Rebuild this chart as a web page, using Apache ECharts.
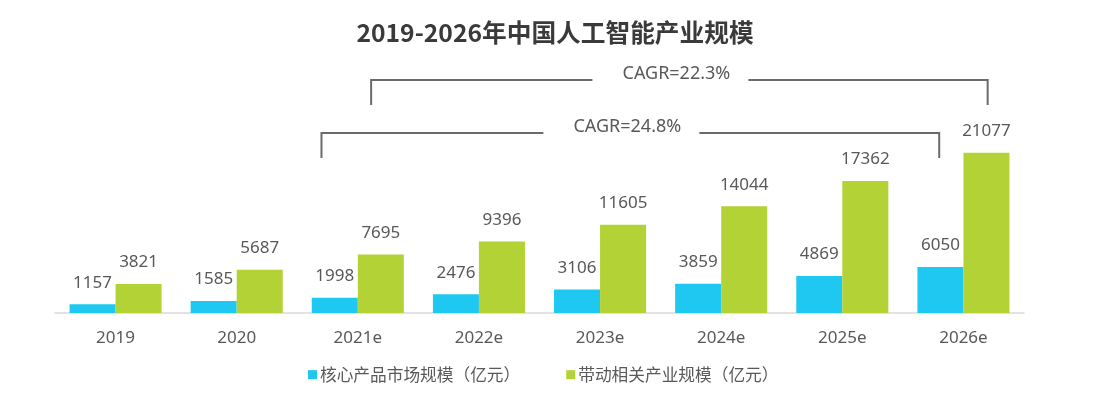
<!DOCTYPE html>
<html>
<head>
<meta charset="utf-8">
<script src="https://cdn.jsdelivr.net/npm/echarts@6/dist/echarts.min.js"></script>
<style>
html,body{margin:0;padding:0;background:#fff;}
#chart{width:1110px;height:393px;}
</style>
</head>
<body>
<div id="chart"></div>
<script>
const titleText = '2019-2026年中国人工智能产业规模';
const categories = ['2019', '2020', '2021e', '2022e', '2023e', '2024e', '2025e', '2026e'];
const coreNames = '核心产品市场规模（亿元）';
const relatedNames = '带动相关产业规模（亿元）';
const coreValues = [1157, 1585, 1998, 2476, 3106, 3859, 4869, 6050];
const relatedValues = [3821, 5687, 7695, 9396, 11605, 14044, 17362, 21077];
// brackets: [start category index, end category index, level]
const cagrBrackets = [[2, 7, 0], [2, 7, 1]];
const cagrLabels = ['CAGR=22.3%', 'CAGR=24.8%'];

const FONT = '"Noto Sans", "Noto Sans CJK SC", sans-serif';
const TEXT = '#595959';
const LINE = '#6b6b6b';

// bracket layout (pixel levels and offsets as fractions of a category band)
const bracketStyle = [
  { top: 80, bottom: 105, left: 0.11, right: 0.20, textDy: -6 },
  { top: 133, bottom: 158, left: -0.30, right: -0.20, textDy: -6 }
];

const chart = echarts.init(document.getElementById('chart'), null, { renderer: 'canvas' });
chart.setOption({
  animation: false,
  backgroundColor: '#fff',
  title: {
    text: titleText,
    left: 'center',
    top: 15,
    textStyle: { fontFamily: '"Noto Sans CJK SC", sans-serif', fontSize: 24.7, fontWeight: 'bold', color: '#3a3a3a' }
  },
  legend: {
    bottom: 5,
    left: 303,
    itemWidth: 9,
    itemHeight: 9,
    itemGap: 46,
    icon: 'rect',
    textStyle: { fontFamily: '"Noto Sans CJK SC", sans-serif', fontSize: 16.7, color: TEXT, padding: [0, 0, 0, -2] },
    data: [coreNames, relatedNames]
  },
  grid: { left: 55, right: 86, top: 123, bottom: 80, containLabel: false },
  xAxis: {
    type: 'category',
    data: categories,
    axisLine: { lineStyle: { color: '#d9d9d9', width: 1.5 } },
    axisTick: { show: false },
    axisLabel: { fontFamily: FONT, fontSize: 17, color: TEXT, margin: 17 }
  },
  yAxis: { type: 'value', min: 0, max: 25000, show: false, splitLine: { show: false } },
  series: [
    {
      name: coreNames,
      type: 'bar',
      data: coreValues,
      barWidth: '38%',
      barGap: '0%',
      itemStyle: { color: '#1fc8f0' },
      label: { show: true, position: 'top', distance: 13, fontFamily: FONT, fontSize: 17, color: TEXT }
    },
    {
      name: relatedNames,
      type: 'bar',
      data: relatedValues,
      barWidth: '38%',
      barGap: '0%',
      itemStyle: { color: '#b2d235' },
      label: { show: true, position: 'top', distance: 13, fontFamily: FONT, fontSize: 17, color: TEXT }
    },
    {
      type: 'custom',
      silent: true,
      clip: false,
      data: cagrBrackets,
      encode: { x: [0, 1] },
      renderItem: function (params, api) {
        const i0 = api.value(0), i1 = api.value(1), lvl = api.value(2);
        const band = api.size([1, 0])[0];
        const s = bracketStyle[lvl];
        const xl = api.coord([i0, 0])[0] + s.left * band;
        const xr = api.coord([i1, 0])[0] + s.right * band;
        const mid = (xl + xr) / 2 - 3;
        const ls = { stroke: LINE, lineWidth: 2, fill: null };
        return {
          type: 'group',
          children: [
            { type: 'polyline', shape: { points: [[xl, s.bottom], [xl, s.top], [mid - 84, s.top]] }, style: ls },
            { type: 'polyline', shape: { points: [[mid + 72, s.top], [xr, s.top], [xr, s.bottom]] }, style: ls },
            { type: 'text', x: mid, y: s.top + s.textDy,
              style: { text: cagrLabels[lvl], fontFamily: FONT, fontSize: 18, fill: TEXT, align: 'center', verticalAlign: 'middle' } }
          ]
        };
      }
    }
  ]
});
</script>
</body>
</html>
